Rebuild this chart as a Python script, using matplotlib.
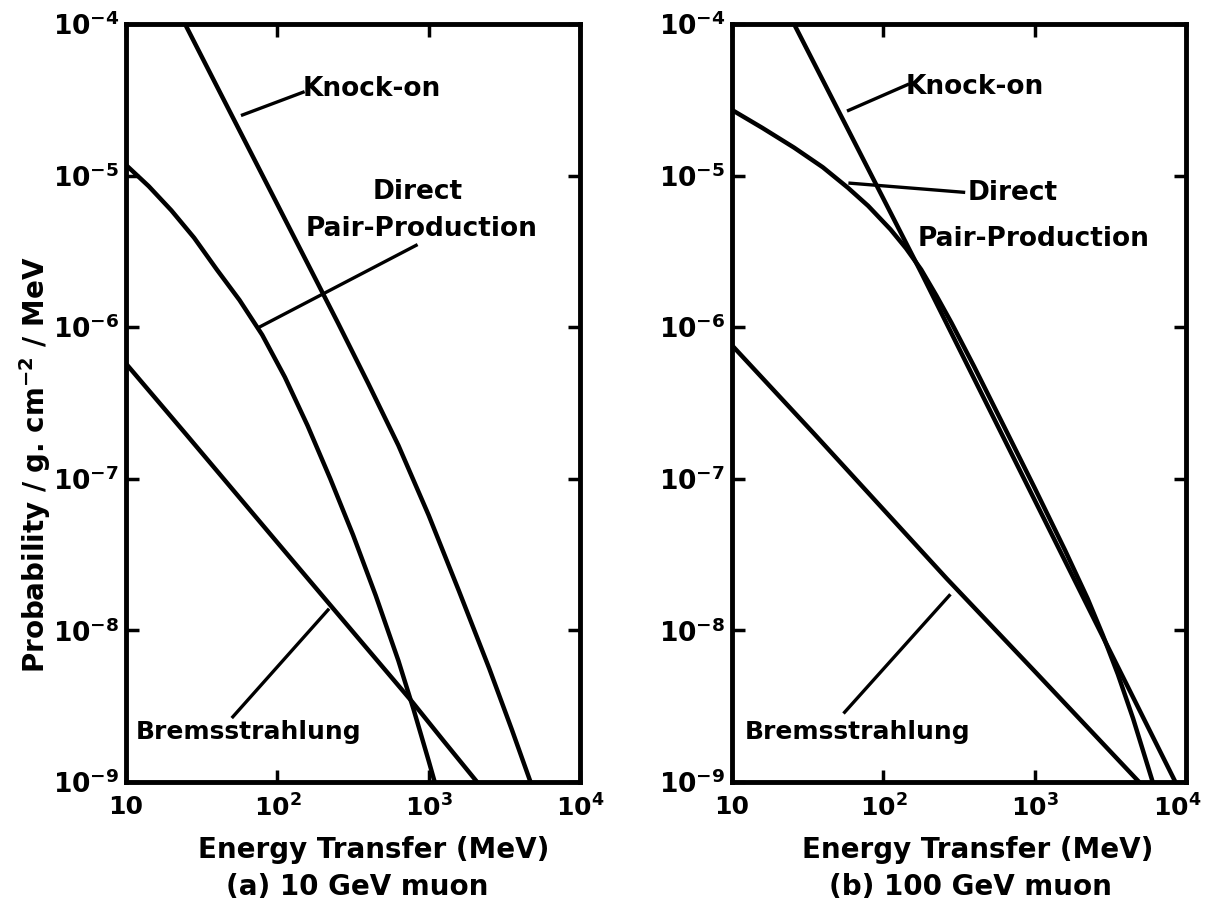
import matplotlib
matplotlib.use("Agg")
import matplotlib.pyplot as plt
from matplotlib.transforms import ScaledTranslation

plt.rcParams['font.family'] = ['DejaVu Sans']
plt.rcParams['font.weight'] = 'bold'
plt.rcParams['mathtext.fontset'] = 'dejavusans'
plt.rcParams['mathtext.default'] = 'bf'

# ---------------- data ----------------
# Panel (a): 10 GeV muon
knock_a_E = [24.55, 39.81, 63.1, 100, 158.5, 251.2, 398.1, 631, 1000, 1585, 2512, 3548, 4710]
knock_a_P = [1e-4, 3.89e-5, 1.585e-5, 6.46e-6, 2.63e-6, 1.07e-6, 4.27e-7, 1.66e-7,
             5.75e-8, 1.82e-8, 5.62e-9, 2.21e-9, 1.0e-9]

pair_a_E = [10, 14.13, 19.95, 28.18, 39.81, 56.23, 79.43, 112.2, 158.5, 223.9, 316.2,
            446.7, 631, 794.3, 1000, 1096]
pair_a_P = [1.175e-5, 8.51e-6, 5.89e-6, 3.89e-6, 2.40e-6, 1.51e-6, 8.9e-7, 4.68e-7,
            2.24e-7, 1.0e-7, 4.27e-8, 1.70e-8, 6.31e-9, 3.02e-9, 1.38e-9, 1.0e-9]

brems_a_E = [10, 25.12, 100, 316.2, 776.2, 1259, 2089]
brems_a_P = [5.75e-7, 1.95e-7, 3.8e-8, 9.77e-9, 3.39e-9, 1.86e-9, 1.0e-9]

# Panel (b): 100 GeV muon
knock_b_E = [25.7, 178, 2818, 8511]
knock_b_P = [1e-4, 2.29e-6, 9.1e-9, 1.0e-9]

pair_b_E = [10, 15.85, 25.7, 39.81, 58.3, 79.43, 111.4, 141.3, 177.8, 223.9, 281.8,
            398.1, 631, 1000, 1585, 2239, 2818, 3548, 4467, 6026]
pair_b_P = [2.71e-5, 2.065e-5, 1.53e-5, 1.135e-5, 8.32e-6, 6.31e-6, 4.42e-6, 3.31e-6,
            2.40e-6, 1.62e-6, 1.07e-6, 5.5e-7, 2.19e-7, 8.7e-8, 3.39e-8, 1.62e-8,
            9.33e-9, 5.13e-9, 2.63e-9, 1.0e-9]

brems_b_E = [10, 34.67, 263, 1023, 4898]
brems_b_P = [7.59e-7, 1.995e-7, 2.19e-8, 5.25e-9, 1.0e-9]

x_ticks = [10, 100, 1000, 10000]
x_ticklabels = ['10', r'$10^2$', r'$10^3$', r'$10^4$']
y_ticks = [1e-9, 1e-8, 1e-7, 1e-6, 1e-5, 1e-4]
y_ticklabels = [r'$10^{-9}$', r'$10^{-8}$', r'$10^{-7}$', r'$10^{-6}$', r'$10^{-5}$', r'$10^{-4}$']

ylabel = r'Probability / g. cm$^{-2}$ / MeV'
xlabel = 'Energy Transfer (MeV)'
captions = ['(a) 10 GeV muon', '(b) 100 GeV muon']

# ---------------- figure ----------------
W, H = 1207, 913
fig = plt.figure(figsize=(W / 100, H / 100), dpi=100)
ax_a = fig.add_axes([126 / W, 131 / H, 454 / W, 758 / H])
ax_b = fig.add_axes([732 / W, 131 / H, 454 / W, 758 / H])

LW = 3.2
for ax in (ax_a, ax_b):
    ax.set_xscale('log')
    ax.set_yscale('log')
    ax.set_xlim(10, 1e4)
    ax.set_ylim(1e-9, 1e-4)
    ax.set_xticks(x_ticks)
    ax.set_xticklabels(x_ticklabels)
    ax.set_yticks(y_ticks)
    ax.set_yticklabels(y_ticklabels)
    ax.minorticks_off()
    ax.tick_params(which='major', direction='in', length=9, width=2.5,
                   top=True, right=True, labelsize=19)
    ax.tick_params(axis='x', pad=9, labelsize=18)
    ax.tick_params(axis='y', pad=5)
    for s in ax.spines.values():
        s.set_linewidth(3.5)

# curves
ax_a.plot(knock_a_E, knock_a_P, color='black', lw=LW)
ax_a.plot(pair_a_E, pair_a_P, color='black', lw=LW)
ax_a.plot(brems_a_E, brems_a_P, color='black', lw=LW)

ax_b.plot(knock_b_E, knock_b_P, color='black', lw=LW)
ax_b.plot(pair_b_E, pair_b_P, color='black', lw=LW)
ax_b.plot(brems_b_E, brems_b_P, color='black', lw=LW)

LL = 2.4
FS = 19
# annotations panel (a)
ax_a.plot([10**1.77, 10**2.17], [10**-4.60, 10**-4.45], color='black', lw=LL)
ax_a.text(10**2.17, 10**-4.43, 'Knock-on', fontsize=FS, ha='left', va='center')
ax_a.text(10**2.93, 10**-5.11, 'Direct', fontsize=FS, ha='center', va='center')
ax_a.text(10**2.95, 10**-5.35, 'Pair-Production', fontsize=FS, ha='center', va='center')
ax_a.plot([10**1.88, 10**2.917], [10**-6.0, 10**-5.46], color='black', lw=LL)
ax_a.plot([10**1.706, 10**2.335], [10**-8.57, 10**-7.865], color='black', lw=LL)
ax_a.text(10**1.81, 10**-8.67, 'Bremsstrahlung', fontsize=18, ha='center', va='center')

# annotations panel (b)
ax_b.plot([10**1.77, 10**2.16], [10**-4.57, 10**-4.40], color='black', lw=LL)
ax_b.text(10**2.15, 10**-4.415, 'Knock-on', fontsize=FS, ha='left', va='center')
ax_b.plot([10**1.78, 10**2.53], [10**-5.05, 10**-5.11], color='black', lw=LL)
ax_b.text(10**2.56, 10**-5.115, 'Direct', fontsize=FS, ha='left', va='center')
ax_b.text(10**2.99, 10**-5.42, 'Pair-Production', fontsize=FS, ha='center', va='center')
ax_b.plot([10**1.744, 10**2.436], [10**-8.54, 10**-7.77], color='black', lw=LL)
ax_b.text(10**1.83, 10**-8.67, 'Bremsstrahlung', fontsize=18, ha='center', va='center')

# keep the last x tick label of panel (b) inside the figure
last = ax_b.get_xticklabels()[-1]
last.set_transform(last.get_transform() + ScaledTranslation(-0.09, 0, fig.dpi_scale_trans))

# axis titles
fig.text(35 / W, 1 - 465 / H, ylabel, rotation=90, fontsize=20, ha='center', va='center')
fig.text(374 / W, 1 - 850 / H, xlabel, fontsize=20, ha='center', va='center')
fig.text(357 / W, 1 - 887 / H, captions[0], fontsize=20, ha='center', va='center')
fig.text(978 / W, 1 - 850 / H, xlabel, fontsize=20, ha='center', va='center')
fig.text(970 / W, 1 - 887 / H, captions[1], fontsize=20, ha='center', va='center')

fig.savefig('out.png', dpi=100, facecolor='white')
